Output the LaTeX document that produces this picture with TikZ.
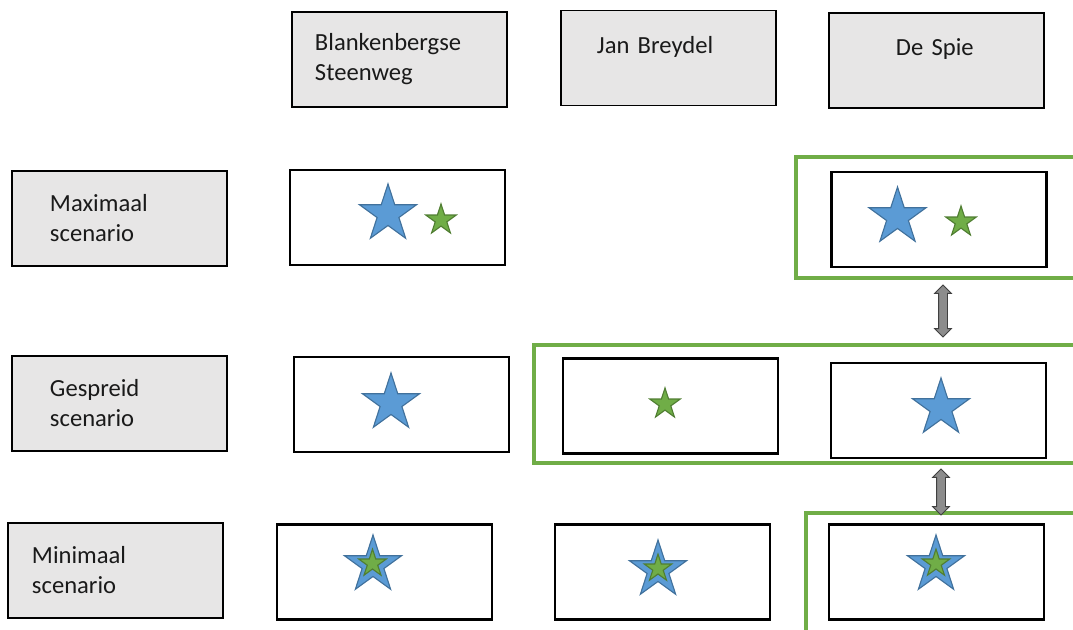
\documentclass[tikz,border=0pt]{standalone}
\usepackage{fontspec}
\setmainfont{Carlito}
\usetikzlibrary{shapes.geometric,shapes.arrows}
\definecolor{Ink}{HTML}{1A1A1A}
\definecolor{HeadFill}{HTML}{E7E6E6}
\definecolor{Frame}{HTML}{70AD47}
\definecolor{StarBlue}{HTML}{5B9BD5}
\definecolor{StarBlueLine}{HTML}{41719C}
\definecolor{StarGreen}{HTML}{70AD47}
\definecolor{StarGreenLine}{HTML}{507E32}
\tikzset{head/.style={draw=black,fill=HeadFill,line width=1.3pt,minimum width=5.375cm,minimum height=2.375cm,align=left,text=Ink,font=\fontsize{17.5}{21.3}\selectfont,inner xsep=#1,text width={5.375cm-2*#1}},cell/.style={draw=black,line width=1.6pt,minimum width=5.375cm,minimum height=2.375cm},bigstar/.style={star,star points=5,star point ratio=2.618,fill=StarBlue,draw=StarBlueLine,line width=.8pt,minimum size=1.5cm,inner sep=0pt},smallstar/.style={star,star points=5,star point ratio=2.618,fill=StarGreen,draw=StarGreenLine,line width=.8pt,minimum size=.8cm,inner sep=0pt},innerstar/.style={smallstar,minimum size=.72cm},group/.style={draw=Frame,line width=2.6pt},swap/.style={double arrow,draw=black!75,fill=black!45,line width=.6pt,rotate=90,minimum height=1.3cm,inner xsep=0pt,inner ysep=.1cm,double arrow head extend=.1cm}}

\begin{document}
\begin{tikzpicture}[x=0.025cm,y=-0.025cm]
      \clip (0,0) rectangle (1073,630);
      % column heads
      \node[head=.575cm](hBS) at (399.5,59.5){Blankenbergse\\Steenweg};
      \node[head=.9cm,text depth=19pt](hJB) at (668.5,58){Jan Breydel};
      \node[head=1.675cm,text depth=19pt](hDS) at (936.5,60.5){De Spie};
      % scenarios
      \node[head=.95cm](sMax) at (119.5,218.5){Maximaal\\scenario};
      \node[head=.95cm](sGes) at (119.5,403.5){Gespreid\\scenario};
      \node[head=.6cm](sMin) at (115.5,570.5){Minimaal\\scenario};
      % green groups
      \draw[group] (796,157) rectangle (1095,278);
      \draw[group] (534,345) rectangle (1095,463);
      \draw[group] (806,513) rectangle (1095,650);
      % cells
      \node[cell](c1BS) at (397.5,217.5){};
      \node[cell](c1DS) at (939,219.5){};
      \node[cell](c2BS) at (401.5,404.5){};
      \node[cell](c2JB) at (670.5,406){};
      \node[cell](c2DS) at (938.5,410.5){};
      \node[cell](c3BS) at (384.5,572){};
      \node[cell](c3JB) at (662.5,572){};
      \node[cell](c3DS) at (936.5,572){};
      % stars
      \node[bigstar](s1a) at (388,214){};
      \node[smallstar](s1b) at (441,220){};
      \node[bigstar](s1c) at (897.5,217){};
      \node[smallstar](s1d) at (961,222){};
      \node[bigstar](s2a) at (391,403){};
      \node[smallstar](s2b) at (665,404){};
      \node[bigstar](s2c) at (941,408){};
      \node[bigstar](s3a) at (373,565){};
      \node[innerstar](s3b) at (372.5,563.5){};
      \node[bigstar](s3c) at (658,570){};
      \node[innerstar](s3d) at (658,568.5){};
      \node[bigstar](s3e) at (936,565){};
      \node[innerstar](s3f) at (936,563.5){};
      % swaps
      \node[swap](w1) at (943,311){};
      \node[swap,minimum height=1.15cm](w2) at (941,492){};
    \end{tikzpicture}
\end{document}
